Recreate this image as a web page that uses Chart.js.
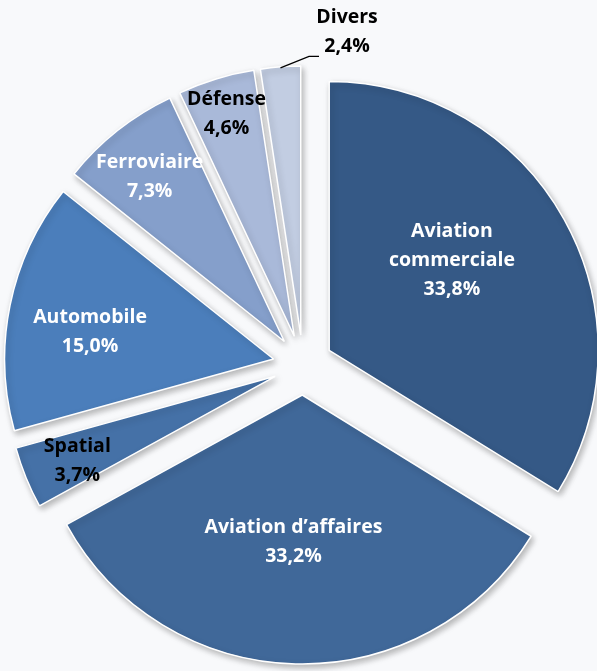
<!DOCTYPE html>
<html>
<head>
<meta charset="utf-8">
<script src="https://cdn.jsdelivr.net/npm/chart.js@4.4.0/dist/chart.umd.min.js"></script>
<style>
  html, body { margin: 0; padding: 0; background: #f8f9fb; }
  canvas { display: block; }
</style>
</head>
<body>
<canvas id="myChart" width="597" height="671"></canvas>
<script>
const sectors = ['Aviation commerciale', 'Aviation d’affaires', 'Spatial', 'Automobile', 'Ferroviaire', 'Défense', 'Divers'];
const labelLines = [['Aviation', 'commerciale'], ['Aviation d’affaires'], ['Spatial'], ['Automobile'], ['Ferroviaire'], ['Défense'], ['Divers']];
const shares = [33.8, 33.2, 3.7, 15.0, 7.3, 4.6, 2.4];

const sliceColors = ['#355986', '#406899', '#4571a7', '#4b7ebb', '#859fcb', '#a9b9d9', '#c2cde2'];
const textColors = ['#ffffff', '#ffffff', '#000000', '#ffffff', '#ffffff', '#000000', '#000000'];
// label placement: fraction of radius, angle shift (deg) from slice middle
const labelRadius = [0.565, 0.546, 0.80, 0.69, 0.79, 0.865, 1.14];
const labelShift = [-7, 2, -1, -3, -1, 0, 13];
const EXPLODE = 30;
const LINE_H = 29;

const fmt = v => v.toFixed(1).replace('.', ',') + '%';

const pieExtras = {
  id: 'pieExtras',
  afterDatasetUpdate(chart, args) {
    // exploded slices: push every arc out along its middle angle
    chart.getDatasetMeta(args.index).data.forEach(arc => {
      const mid = (arc.startAngle + arc.endAngle) / 2;
      arc.x += Math.cos(mid) * EXPLODE;
      arc.y += Math.sin(mid) * EXPLODE;
    });
  },
  beforeDatasetsDraw(chart) {
    const ctx = chart.ctx;
    ctx.save();
    ctx.shadowColor = 'rgba(0,0,0,0.28)';
    ctx.shadowBlur = 6;
    ctx.shadowOffsetX = 2;
    ctx.shadowOffsetY = 3;
  },
  afterDatasetsDraw(chart) {
    const ctx = chart.ctx;
    ctx.restore();
    const arcs = chart.getDatasetMeta(0).data;
    ctx.save();
    ctx.font = 'bold 19.5px "Open Sans"';
    ctx.textAlign = 'center';
    ctx.textBaseline = 'middle';
    arcs.forEach((arc, i) => {
      const mid = (arc.startAngle + arc.endAngle) / 2;
      const a = mid + labelShift[i] * Math.PI / 180;
      const r = arc.outerRadius * labelRadius[i];
      const x = arc.x + Math.cos(a) * r;
      const y = arc.y + Math.sin(a) * r;
      const lines = labelLines[i].concat([fmt(shares[i])]);
      const top = y - (lines.length - 1) * LINE_H / 2;
      ctx.fillStyle = textColors[i];
      lines.forEach((t, k) => ctx.fillText(t, x, top + k * LINE_H));
      if (labelRadius[i] > 1) {
        // leader line for labels outside the pie
        const ex = arc.x + Math.cos(mid) * arc.outerRadius;
        const ey = arc.y + Math.sin(mid) * arc.outerRadius;
        ctx.beginPath();
        ctx.moveTo(ex, ey + 1);
        ctx.lineTo(x - 38, y + 24.5);
        ctx.lineTo(x - 28, y + 24.5);
        ctx.strokeStyle = '#000';
        ctx.lineWidth = 1.3;
        ctx.stroke();
      }
    });
    ctx.restore();
  }
};

const ctx = document.getElementById('myChart').getContext('2d');
new Chart(ctx, {
  type: 'pie',
  data: {
    labels: sectors,
    datasets: [{
      data: shares,
      backgroundColor: sliceColors,
      borderColor: '#ffffff',
      borderWidth: 1.5,
      clip: false
    }]
  },
  options: {
    responsive: false,
    animation: false,
    events: [],
    radius: 269,
    layout: { padding: { left: 9, right: 0, top: 59, bottom: 0 } },
    plugins: {
      legend: { display: false },
      tooltip: { enabled: false }
    }
  },
  plugins: [pieExtras]
});
</script>
</body>
</html>
